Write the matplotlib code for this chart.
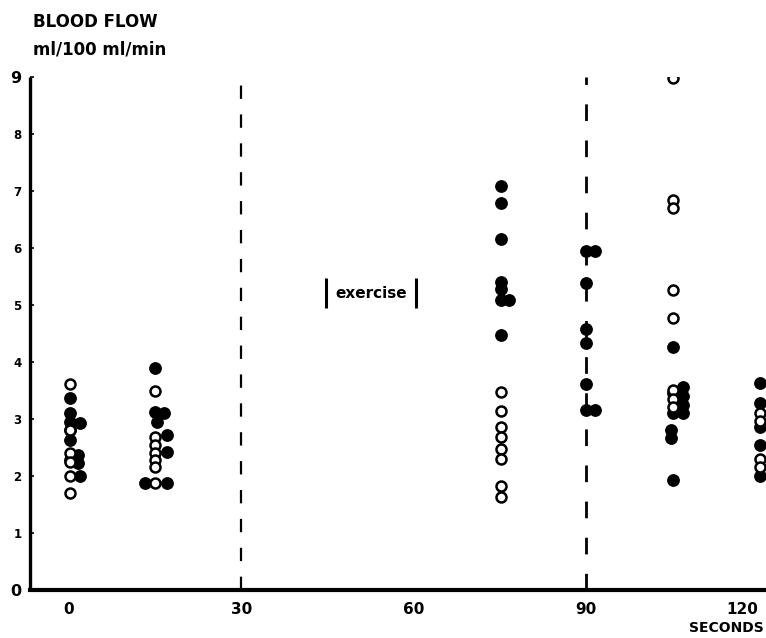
"""Forearm blood flow before and after exercise, redrawn from a scanned figure."""

import matplotlib

matplotlib.use("Agg")

import matplotlib.pyplot as plt

# Filled circles (seconds, ml/100 ml/min)
filled_x = [0.2, 0.2, 0.2, 1.9, 0.2, 0.2, 1.6, 1.6, 0.2, 1.9,
            15.0, 15.0, 16.6, 15.4, 17.0, 17.0, 13.3, 17.0,
            75.2, 75.2, 75.2, 75.2, 75.2, 75.2, 76.6, 75.2,
            90.0, 91.6, 90.0, 90.0, 90.0, 90.0, 90.0, 91.6,
            105.2, 105.2, 106.9, 106.9, 106.9, 105.2, 107.0, 104.9, 104.9, 105.2,
            120.3, 120.3, 120.3, 120.3, 120.3]
filled_y = [3.37, 3.10, 2.95, 2.93, 2.80, 2.63, 2.37, 2.22, 2.28, 2.00,
            3.89, 3.12, 3.10, 2.95, 2.72, 2.42, 1.88, 1.88,
            7.09, 6.79, 6.16, 5.40, 5.28, 5.08, 5.08, 4.47,
            5.95, 5.95, 5.38, 4.58, 4.33, 3.61, 3.16, 3.16,
            4.27, 3.45, 3.56, 3.40, 3.25, 3.10, 3.10, 2.80, 2.67, 1.93,
            3.63, 3.28, 2.86, 2.54, 2.00]

# Open circles
open_x = [0.2, 0.2, 0.2, 0.2, 0.2, 0.2,
          15.0, 15.0, 15.0, 15.0, 15.0, 15.0, 15.0,
          75.2, 75.2, 75.2, 75.2, 75.2, 75.2, 75.2, 75.2,
          105.2, 105.2, 105.2, 105.2, 105.2, 105.2, 105.2, 105.2,
          120.3, 120.3, 120.3, 120.3]
open_y = [3.61, 2.81, 2.40, 2.25, 2.00, 1.70,
          3.49, 2.69, 2.54, 2.40, 2.28, 2.16, 1.88,
          3.47, 3.14, 2.86, 2.68, 2.47, 2.30, 1.82, 1.63,
          8.98, 6.84, 6.70, 5.26, 4.77, 3.51, 3.35, 3.21,
          3.10, 2.97, 2.30, 2.16]

x_ticks = [0, 30, 60, 90, 120]
y_ticks = list(range(10))
exercise_bounds = [30, 90]  # dashed markers for the exercise period
exercise_label = "exercise"

INK = "#000000"
FONT = "DejaVu Sans"

fig = plt.figure(figsize=(7.66, 6.38), dpi=100, facecolor="white")
ax = fig.add_axes([30 / 766, 48 / 638, 736 / 766, 513 / 638])
ax.set_xlim(-6.8, 121.4)
ax.set_ylim(0, 9)

for side in ("top", "right"):
    ax.spines[side].set_visible(False)
ax.spines["left"].set_linewidth(2.4)
ax.spines["bottom"].set_linewidth(3.0)
ax.spines["left"].set_capstyle("butt")

ax.set_xticks(x_ticks)
xlabels = ax.set_xticklabels([str(t) for t in x_ticks], fontsize=11,
                             fontweight="bold", family=FONT)
xlabels[-1].set_horizontalalignment("right")  # last label sits against the edge
ax.tick_params(axis="x", length=0, pad=9)
ax.set_yticks(y_ticks)
ylabels = ax.set_yticklabels([str(t) for t in y_ticks], family=FONT, fontweight="bold")
for t, lab in zip(y_ticks, ylabels):
    lab.set_fontsize(11.5 if t in (0, 9) else 8.5)
ax.tick_params(axis="y", direction="in", length=3, width=1.2, pad=6)

for xb, lw in zip(exercise_bounds, (1.6, 2.0)):
    ax.axvline(xb, ymin=0, ymax=1, color=INK, linewidth=lw, dashes=(6, 7), zorder=1)

ax.plot(filled_x, filled_y, linestyle="none", marker="o", markersize=8.2,
        markerfacecolor=INK, markeredgecolor=INK, zorder=2)
ax.plot(open_x, open_y, linestyle="none", marker="o", markersize=7.2,
        markerfacecolor="white", markeredgecolor=INK, markeredgewidth=1.8, zorder=3)

# "|exercise|" tag between the dashed markers
ax.text(52.6, 5.2, exercise_label, ha="center", va="center", fontsize=11,
        fontweight="bold", family=FONT, color=INK)
ax.vlines([44.8, 60.4], 4.95, 5.47, color=INK, linewidth=2.2)

fig.text(33 / 766, 1 - 22 / 638, "BLOOD FLOW", ha="left", va="center",
         fontsize=12, fontweight="bold", family=FONT)
fig.text(33 / 766, 1 - 50 / 638, "ml/100 ml/min", ha="left", va="center",
         fontsize=12, fontweight="bold", family=FONT)
fig.text(764 / 766, 1 - 628 / 638, "SECONDS", ha="right", va="center",
         fontsize=10, fontweight="bold", family=FONT)

fig.savefig("out.png", dpi=100, facecolor=fig.get_facecolor())
